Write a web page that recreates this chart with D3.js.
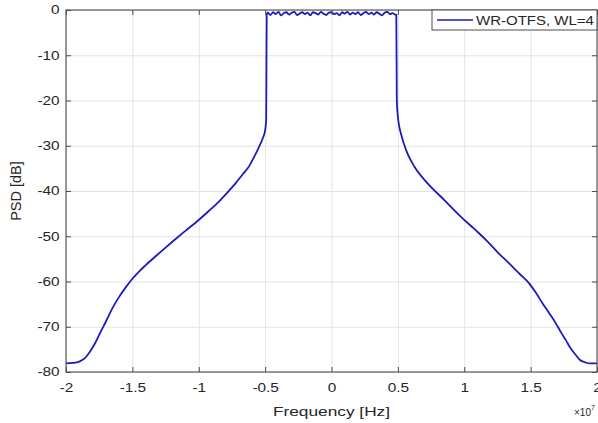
<!DOCTYPE html>
<html>
<head>
<meta charset="utf-8">
<script src="https://cdn.jsdelivr.net/npm/d3@7"></script>
<style>
  body { margin: 0; background: #fff; }
  text { font-family: "Liberation Sans", Arial, sans-serif; fill: #262626; }
</style>
</head>
<body>
<svg id="chart" width="598" height="423"></svg>
<script>
// frequency in units of 1e7 Hz, PSD in dB
var lowerFreq = [-2.00, -1.95, -1.90, -1.86, -1.82, -1.78, -1.74, -1.70, -1.65, -1.60,
                 -1.55, -1.50, -1.45, -1.40, -1.32, -1.25, -1.17, -1.10, -1.00, -0.92,
                 -0.85, -0.78, -0.72, -0.66, -0.62, -0.58, -0.55, -0.52, -0.50, -0.492, -0.488];
var lowerPsd  = [-78.1, -78.0, -77.7, -77.0, -75.5, -73.6, -71.2, -68.9, -65.9, -63.4,
                 -61.3, -59.4, -57.8, -56.4, -54.3, -52.5, -50.5, -48.8, -46.4, -44.3,
                 -42.4, -40.2, -38.2, -36.0, -34.5, -32.3, -30.5, -28.5, -26.6, -24.2, -1.0];

var passFreq = [-0.48, -0.46, -0.44, -0.42, -0.40, -0.38, -0.36, -0.34, -0.32, -0.30,
                -0.28, -0.26, -0.24, -0.22, -0.20, -0.18, -0.16, -0.14, -0.12, -0.10,
                -0.08, -0.06, -0.04, -0.02, 0.00, 0.02, 0.04, 0.06, 0.08, 0.10,
                0.12, 0.14, 0.16, 0.18, 0.20, 0.22, 0.24, 0.26, 0.28, 0.30,
                0.32, 0.34, 0.36, 0.38, 0.40, 0.42, 0.44, 0.46, 0.48];
var passPsd  = [-0.6, -1.1, -0.5, -0.9, -0.4, -1.2, -0.7, -0.5, -1.0, -0.6,
                -0.4, -1.1, -0.8, -0.5, -0.9, -0.6, -1.2, -0.5, -0.7, -1.0,
                -0.4, -0.8, -1.1, -0.6, -0.5, -0.9, -0.7, -1.2, -0.5, -0.8,
                -0.4, -1.0, -0.6, -0.9, -0.5, -1.1, -0.7, -0.4, -0.9, -0.6,
                -1.0, -0.5, -0.8, -1.2, -0.6, -0.4, -0.9, -0.7, -1.0];

var upperFreq = [0.488, 0.492, 0.497, 0.504, 0.524, 0.561, 0.624, 0.724, 0.85, 0.975,
                 1.08, 1.163, 1.25, 1.338, 1.42, 1.489, 1.54, 1.589, 1.64, 1.689,
                 1.73, 1.764, 1.80, 1.839, 1.87, 1.914, 1.95, 2.00];
var upperPsd  = [-1.0, -20.0, -22.6, -24.6, -27.4, -30.9, -34.6, -38.3, -42.0, -45.7,
                 -48.5, -50.8, -53.5, -56.0, -58.4, -60.4, -62.5, -64.8, -67.0, -69.2,
                 -71.3, -72.9, -74.7, -76.2, -77.3, -77.9, -78.1, -78.1];

var xTicks = [-2, -1.5, -1, -0.5, 0, 0.5, 1, 1.5, 2];
var yTicks = [-80, -70, -60, -50, -40, -30, -20, -10, 0];
var seriesName = "WR-OTFS, WL=4";

var freq = lowerFreq.concat(passFreq, upperFreq);
var psd = lowerPsd.concat(passPsd, upperPsd);
var points = freq.map((f, i) => [f, psd[i]]);

var plotLeft = 66, plotRight = 597, plotTop = 10, plotBottom = 372;
var stretch = 1.28;   // the original figure is widened horizontally

var svg = d3.select("#chart");
svg.append("rect").attr("width", 598).attr("height", 423).attr("fill", "#fff");

var x = d3.scaleLinear().domain([-2, 2]).range([plotLeft, plotRight]);
var y = d3.scaleLinear().domain([-80, 0]).range([plotBottom, plotTop]);

// grid
svg.append("g")
    .attr("transform", `translate(0,${plotBottom})`)
    .call(d3.axisBottom(x).tickValues(xTicks).tickSize(-(plotBottom - plotTop)).tickFormat(""))
    .call(g => g.select(".domain").remove())
    .call(g => g.selectAll("line").attr("stroke", "#e3e3e3"));
svg.append("g")
    .attr("transform", `translate(${plotLeft},0)`)
    .call(d3.axisLeft(y).tickValues(yTicks).tickSize(-(plotRight - plotLeft)).tickFormat(""))
    .call(g => g.select(".domain").remove())
    .call(g => g.selectAll("line").attr("stroke", "#e3e3e3"));

// curve
svg.append("path")
    .datum(points)
    .attr("fill", "none")
    .attr("stroke", "#1c1cb8")
    .attr("stroke-width", 1.8)
    .attr("stroke-linejoin", "round")
    .attr("d", d3.line().curve(d3.curveMonotoneX).x(d => x(d[0])).y(d => y(d[1])));

// axes with inward ticks
function styleAxis(g) {
    g.select(".domain").remove();
    g.selectAll("line").attr("stroke", "#4d4d4d");
    g.selectAll("text")
        .attr("font-size", 12)
        .attr("font-family", "Liberation Sans, Arial, sans-serif")
        .attr("fill", "#262626")
        .attr("transform", `scale(${stretch},1)`);
}

svg.append("g")
    .attr("transform", `translate(0,${plotBottom})`)
    .call(d3.axisBottom(x).tickValues(xTicks).tickSize(-5).tickSizeOuter(0).tickPadding(11)
        .tickFormat(d => String(d)))
    .call(styleAxis);
svg.append("g")
    .attr("transform", `translate(0,${plotTop})`)
    .call(d3.axisTop(x).tickValues(xTicks).tickSize(-5).tickSizeOuter(0).tickFormat(""))
    .call(styleAxis);
svg.append("g")
    .attr("transform", `translate(${plotLeft},0)`)
    .call(d3.axisLeft(y).tickValues(yTicks).tickSize(-5).tickSizeOuter(0).tickPadding(5)
        .tickFormat(d => String(d)))
    .call(styleAxis);
svg.append("g")
    .attr("transform", `translate(${plotRight},0)`)
    .call(d3.axisRight(y).tickValues(yTicks).tickSize(-5).tickSizeOuter(0).tickFormat(""))
    .call(styleAxis);

// box
svg.append("rect")
    .attr("x", plotLeft).attr("y", plotTop)
    .attr("width", plotRight - plotLeft).attr("height", plotBottom - plotTop)
    .attr("fill", "none").attr("stroke", "#4d4d4d").attr("stroke-width", 1.1);

// axis labels
svg.append("text")
    .attr("transform", `translate(${(plotLeft + plotRight) / 2},416) scale(${stretch},1)`)
    .attr("text-anchor", "middle")
    .attr("font-size", 13.5)
    .text("Frequency [Hz]");

svg.append("text")
    .attr("transform", `translate(21,${(plotTop + plotBottom) / 2}) rotate(-90)`)
    .attr("text-anchor", "middle")
    .attr("font-size", 14.5)
    .text("PSD [dB]");

var exp = svg.append("text")
    .attr("transform", `translate(574,416)`)
    .attr("font-size", 10);
exp.append("tspan").text("\u00d710");
exp.append("tspan").attr("dy", -6).attr("font-size", 7).text("7");

// legend
var legend = svg.append("g");
legend.append("rect")
    .attr("x", 432).attr("y", 10).attr("width", 165).attr("height", 20)
    .attr("fill", "#fff").attr("stroke", "#4d4d4d").attr("stroke-width", 1);
legend.append("line")
    .attr("x1", 437).attr("x2", 473).attr("y1", 20).attr("y2", 20)
    .attr("stroke", "#1c1cb8").attr("stroke-width", 1.5);
legend.append("text")
    .attr("transform", `translate(476,25) scale(1.25,1)`)
    .attr("font-size", 12)
    .text(seriesName);
</script>
</body>
</html>
